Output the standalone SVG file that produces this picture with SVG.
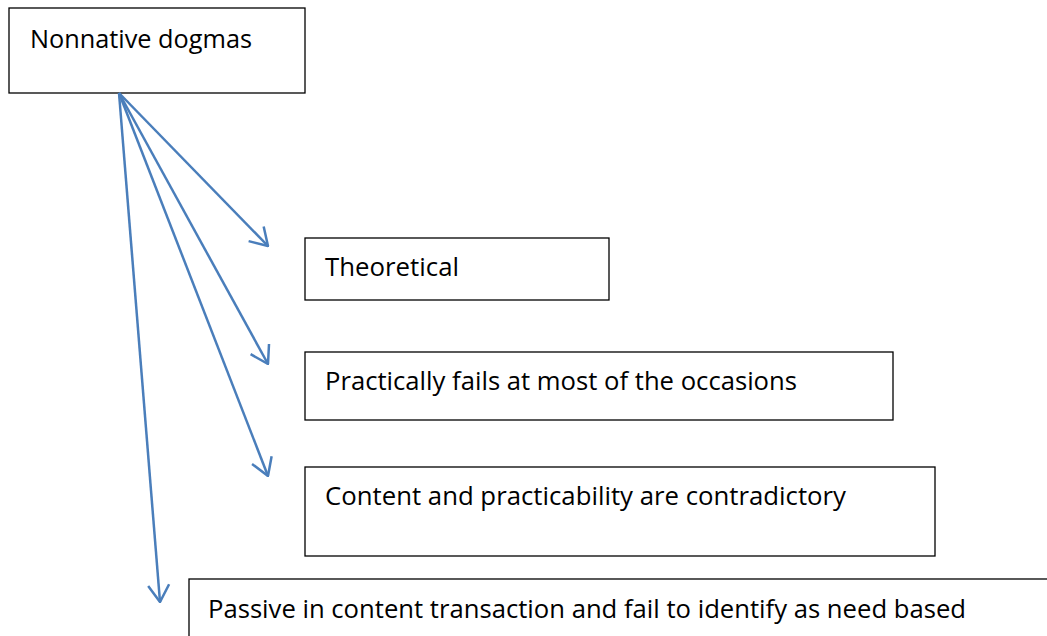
<svg xmlns="http://www.w3.org/2000/svg" width="1047" height="636" viewBox="0 0 1047 636">
<style>
.box{fill:#fff;stroke:#000;stroke-width:1.3}
.lbl{font-family:"Open Sans","Noto Sans",sans-serif;font-size:26px;fill:#000}
.con{stroke:#4A7EBB;stroke-width:2.5;fill:none;marker-end:url(#ah)}
</style>
<defs>
<marker id="ah" viewBox="0 0 20 24" refX="19" refY="12" markerWidth="20" markerHeight="24" markerUnits="userSpaceOnUse" orient="auto">
<path d="M2,1.5 L19,12 L2,22.5" fill="none" stroke="#4A7EBB" stroke-width="2.5" stroke-linejoin="miter"/>
</marker>
</defs>
<rect width="1047" height="636" fill="#fff"/>
<g id="n1"><rect class="box" x="9" y="8" width="296" height="85"/><text class="lbl" x="30" y="48" textLength="222" lengthAdjust="spacingAndGlyphs">Nonnative dogmas</text></g>
<g id="n2"><rect class="box" x="305" y="238" width="304" height="62"/><text class="lbl" x="325" y="276" textLength="134" lengthAdjust="spacingAndGlyphs">Theoretical</text></g>
<g id="n3"><rect class="box" x="305" y="352" width="588" height="68"/><text class="lbl" x="325" y="390" textLength="472" lengthAdjust="spacingAndGlyphs">Practically fails at most of the occasions</text></g>
<g id="n4"><rect class="box" x="305" y="467" width="630" height="89"/><text class="lbl" x="325" y="505" textLength="521" lengthAdjust="spacingAndGlyphs">Content and practicability are contradictory</text></g>
<g id="n5"><rect class="box" x="189" y="579" width="870" height="70"/><text class="lbl" x="208" y="618" textLength="758" lengthAdjust="spacingAndGlyphs">Passive in content transaction and fail to identify as need based</text></g>
<g id="connectors">
<line class="con" x1="119" y1="93" x2="268" y2="246"/>
<line class="con" x1="119" y1="93" x2="268" y2="364"/>
<line class="con" x1="119" y1="93" x2="268" y2="476"/>
<line class="con" x1="119" y1="93" x2="160" y2="602"/>
</g>
</svg>
